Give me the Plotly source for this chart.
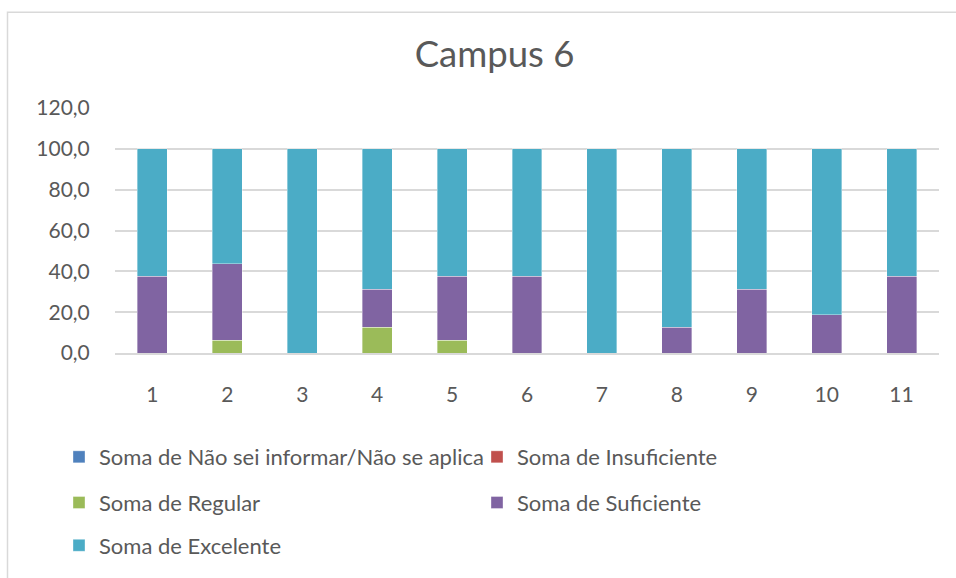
import plotly.graph_objects as go

categories = ["1", "2", "3", "4", "5", "6", "7", "8", "9", "10", "11"]
nao_sei = [0, 0, 0, 0, 0, 0, 0, 0, 0, 0, 0]
insuficiente = [0, 0, 0, 0, 0, 0, 0, 0, 0, 0, 0]
regular = [0, 6.25, 0, 12.5, 6.25, 0, 0, 0, 0, 0, 0]
suficiente = [37.5, 37.5, 0, 18.75, 31.25, 37.5, 0, 12.5, 31.25, 18.75, 37.5]
excelente = [62.5, 56.25, 100, 68.75, 62.5, 62.5, 100, 87.5, 68.75, 81.25, 62.5]
y_ticks = [0, 20, 40, 60, 80, 100, 120]

FONT = "Lato"
GREY = "#595959"

series = [
    ("Soma de Não sei informar/Não se aplica", nao_sei, "#4F81BD", "legend"),
    ("Soma de Insuficiente", insuficiente, "#C0504D", "legend"),
    ("Soma de Regular", regular, "#9BBB59", "legend2"),
    ("Soma de Suficiente", suficiente, "#8064A2", "legend2"),
    ("Soma de Excelente", excelente, "#4BACC6", "legend3"),
]

fig = go.Figure()
for name, vals, color, leg in series:
    fig.add_trace(go.Bar(
        x=categories, y=vals, name=name, legend=leg,
        marker=dict(color=color, line=dict(color="rgba(255,255,255,0.6)", width=0.6)),
    ))

W, H = 956, 578
L, R, T, B = 115, 17, 108, 218
pw, ph = W - L - R, H - T - B

def px_x(p):
    return (p - L) / pw

def px_y(p):
    return (H - B - p) / ph

leg_common = dict(orientation="h", xanchor="left", yanchor="middle",
                  font=dict(family=FONT, size=22, color=GREY),
                  entrywidth=373, bgcolor="rgba(0,0,0,0)", traceorder="normal")

fig.update_layout(
    width=W, height=H,
    margin=dict(l=L, r=R, t=T, b=B),
    barmode="stack", bargap=0.6,
    separators=",.",
    paper_bgcolor="white", plot_bgcolor="white",
    font=dict(family=FONT, color=GREY),
    title=dict(text="Campus 6", x=494.5 / W, xanchor="center", xref="container",
               y=1 - 54.5 / H, yanchor="middle",
               font=dict(family=FONT, size=36.5, color=GREY)),
    xaxis=dict(showgrid=False, showline=True, linecolor="#d9d9d9", linewidth=1.5,
               ticks="outside", ticklen=22, tickcolor="rgba(0,0,0,0)",
               tickfont=dict(family=FONT, size=21, color=GREY)),
    yaxis=dict(range=[0, 120], tickvals=y_ticks, tickformat=".1f",
               showgrid=True, gridcolor="#d9d9d9", gridwidth=1.5,
               zeroline=False, showline=False,
               ticks="outside", ticklen=20, tickcolor="rgba(0,0,0,0)",
               tickfont=dict(family=FONT, size=21, color=GREY)),
    legend=dict(x=px_x(59), y=px_y(467), **leg_common),
    legend2=dict(x=px_x(59), y=px_y(514), **leg_common),
    legend3=dict(x=px_x(59), y=px_y(558), **leg_common),
    shapes=[dict(type="rect", xref="paper", yref="paper",
                 x0=px_x(7.5), x1=px_x(1000), y0=px_y(700), y1=px_y(9.5),
                 line=dict(color="#d9d9d9", width=1.5), fillcolor="rgba(0,0,0,0)",
                 layer="below")],
)

fig.write_html(
    "out.html",
    config={"displayModeBar": False},
    post_script="document.body.style.margin='0';"
                "document.body.style.overflow='hidden';"
                "document.documentElement.style.overflow='hidden';",
)
